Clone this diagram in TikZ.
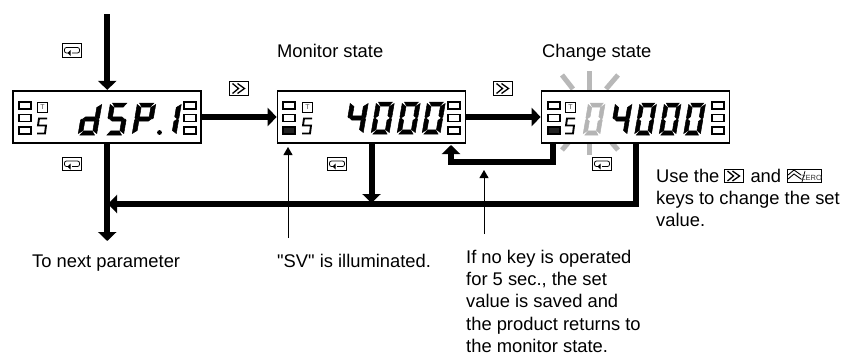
\documentclass[tikz,border=0pt]{standalone}
\usepackage{fontspec}
\setmainfont{Liberation Sans}
\newfontfamily\plainfam{Liberation Sans}
\usetikzlibrary{arrows.meta}
\definecolor{rayg}{HTML}{B8B8B8}
\definecolor{segg}{HTML}{B4B4B4}
\definecolor{litk}{HTML}{222222}
\newcommand{\segcol}{black}
\tikzset{segst/.style={fill=#1,draw=#1,line width=.5pt}}
\newcommand{\segA}{\path[segst=\segcol] (2,32)--(16,32)--(13,27.8)--(5,27.8)--cycle;}
\newcommand{\segB}{\path[segst=\segcol] (18,30.5)--(18,17)--(16.7,16)--(13.7,18.3)--(13.7,27.5)--cycle;}
\newcommand{\segC}{\path[segst=\segcol] (18,15)--(18,1.5)--(13.7,4.5)--(13.7,13.7)--(16.7,16)--cycle;}
\newcommand{\segD}{\path[segst=\segcol] (2,0)--(16,0)--(13,4.2)--(5,4.2)--cycle;}
\newcommand{\segE}{\path[segst=\segcol] (0,1.5)--(0,15)--(1.3,16)--(4.3,13.7)--(4.3,4.5)--cycle;}
\newcommand{\segF}{\path[segst=\segcol] (0,17)--(0,30.5)--(4.3,27.5)--(4.3,18.3)--(1.3,16)--cycle;}
\newcommand{\segG}{\path[segst=\segcol] (2,16)--(4.6,13.8)--(13.4,13.8)--(16,16)--(13.4,18.2)--(4.6,18.2)--cycle;}
% x, bottom y, segments, colour, xscale
\newcommand{\digit}[5]{\begin{scope}[shift={(#1,#2)},x=1pt,y=1pt,xslant=0.17,xscale=#5]
\renewcommand{\segcol}{#4}\foreach \s in {#3}{\csname seg\s\endcsname}\end{scope}}
% indicator groups: left x, T x, right x, bottom-left fill
\newcommand{\indic}[4]{%
\draw[ind,fill=#4] (#1,127) rectangle ++(12,7);
\draw[ind] (#1,102) rectangle ++(12,7);
\draw[ind] (#1,114.5) rectangle ++(12,7);
\draw[ind] (#3,102) rectangle ++(12,7);
\draw[ind] (#3,114.5) rectangle ++(12,7);
\draw[ind] (#3,127) rectangle ++(12,7);
\node[tbox] at (#2+5.5,107.5) {T};
\draw[line width=1.9pt] (#2+10,118.5)--(#2+2,118.5)--(#2+1,125.5)--(#2+9,125.5)--(#2+8,133.5)--(#2,133.5);
}
\tikzset{
 x=1pt,y=-1pt,
 disp/.style={draw,line width=1.7pt,fill=white,minimum width=188pt,minimum height=52.5pt,inner sep=0pt},
 ind/.style={line width=1.5pt,fill=white},
 tbox/.style={draw,line width=1.2pt,minimum width=10pt,minimum height=10pt,inner sep=0pt,font=\fontsize{7}{7}\selectfont,text=black!70},
 key/.style={draw,line width=.7pt,fill=white,minimum width=19pt,minimum height=13.5pt,inner sep=0pt},
 flow/.style={line width=6pt,-{Triangle[width=18pt,length=9pt]}},
 thin/.style={line width=.9pt,-{Triangle[width=9pt,length=8pt]}},
 lab/.style={inner sep=0pt,font=\fontsize{18.35}{22.3}\selectfont,align=left},
 ray/.style={rayg,line width=5pt}
}
\newcommand{\retglyph}[1]{\begin{scope}[shift={(#1)}]
\draw[line width=.8pt,rounded corners=2pt] (-2,2.5)--(-7.5,2.5)--(-7.5,-3)--(7.5,-3)--(7.5,2.5)--(0,2.5);
\fill (-1.5,-.5)--(-1.5,5.5)--(-4.5,2.5)--cycle;
\end{scope}}
\newcommand{\chevglyph}[1]{\begin{scope}[shift={(#1)}]
\draw[line width=1.3pt] (-6.5,-5)--(-.5,0)--(-6.5,5);
\draw[line width=1.3pt] (-1.5,-5)--(5.5,0)--(-1.5,5);
\end{scope}}
\begin{document}
\begin{tikzpicture}
\useasboundingbox (0,0) rectangle (843,356);
\fill[white] (0,0) rectangle (843,356);
% rays
\draw[ray] (589,71)--(589,90);
\draw[ray] (562,75)--(573,89);
\draw[ray] (618,75)--(606,89);
\draw[ray] (574,136)--(562,150);
\draw[ray] (589,137)--(589,155);
\draw[ray] (606,136)--(618,150);
% coordinates
\coordinate (start) at (107.25,14);
\coordinate (nextp) at (107.25,241);
\coordinate (busR) at (638.5,204);
\coordinate (busL) at (108,204);
\coordinate (fbA) at (553,143);
\coordinate (fbB) at (553,162);
\coordinate (fbC) at (451,162);
\coordinate (fbD) at (451,145);
\coordinate (svA) at (288,238);
\coordinate (svB) at (288,147);
\coordinate (noA) at (484,234);
\coordinate (noB) at (484,170);
% displays
\node[disp] (disp1) at (107.25,117) {};
\node[disp] (disp2) at (371.5,117) {};
\node[disp] (disp3) at (635.5,117) {};
% flow
\draw[flow] (start)--(disp1.north);
\draw[flow] (disp1.south)--(nextp);
\draw[flow] (disp1.east)--(disp2.west);
\draw[flow] (disp2.east)--(disp3.west);
\draw[flow] (disp2.south)--(371.5,203);
\draw[flow] (disp3.south)--(disp3.south |- busR)--(busL);
\draw[flow] (fbA)--(fbB)--(fbC)--(fbD);
\draw[thin] (svA)--(svB);
\draw[thin] (noA)--(noB);
% display 1
\indic{19}{37}{184}{white}
\digit{78}{135}{B,C,D,E,G}{black}{1.03}
\digit{105}{135}{A,C,D,F,G}{black}{1.03}
\digit{132}{135}{A,B,E,F,G}{black}{1.03}
\fill (159.5,132.5) circle (2.4);
\digit{157.5}{135}{B,C}{black}{1.03}
% display 2
\indic{283}{302}{448}{litk}
\digit{345}{134}{B,C,F,G}{black}{1}
\digit{371}{134}{A,B,C,D,E,F}{black}{1}
\digit{397}{134}{A,B,C,D,E,F}{black}{1}
\digit{422}{134}{A,B,C,D,E,F}{black}{1}
% display 3
\indic{548}{565}{712}{litk}
\digit{583}{135}{A,B,C,D,E,F}{segg}{.93}
\digit{610}{135}{B,C,F,G}{black}{.93}
\digit{634.5}{135}{A,B,C,D,E,F}{black}{.93}
\digit{659}{135}{A,B,C,D,E,F}{black}{.93}
\digit{683.5}{135}{A,B,C,D,E,F}{black}{.93}
% keys
\node[key] (k1) at (72,50.5) {}; \retglyph{k1.center}
\node[key] (k2) at (72,164) {}; \retglyph{k2.center}
\node[key] (k3) at (337,164) {}; \retglyph{k3.center}
\node[key] (k4) at (602,164) {}; \retglyph{k4.center}
\node[key] (k5) at (239,88.5) {}; \chevglyph{k5.center}
\node[key] (k6) at (503,88.5) {}; \chevglyph{k6.center}
\node[key] (k7) at (734,176) {}; \chevglyph{k7.center}
\node[key,minimum width=34pt] (k8) at (804,176) {};
\begin{scope}[shift={(k8.center)}]
\draw[line width=.9pt] (-16,-1)--(-10,-6)--(-3,-1) (-16,3)--(-10,-2)--(-3,3);
\draw[line width=.7pt] (-2,6)--(1,-5);
\end{scope}
\node[inner sep=0pt,font=\fontsize{7.5}{7.5}\selectfont,text=black!80] (zero) at (811.5,177.5) {ZERO};
% labels
\node[lab,anchor=base west] (mon) at (277,57) {Monitor state};
\node[lab,anchor=base west] (chg) at (542,57) {Change state};
\node[lab,anchor=base west] (tonext) at (32,267) {To next parameter};
\node[lab,anchor=base west] (sv) at (277,267) {\plainfam "SV" is illuminated.};
\node[lab,anchor=north west] (noop) at (466,249.7) {If no key is operated\\for 5 sec., the set\\value is saved and\\the product returns to\\the monitor state.};
\node[lab,anchor=north west] (use) at (656,168.8) {Use the\hspace{26pt} and\\keys to change the set\\value.};
\end{tikzpicture}
\end{document}
